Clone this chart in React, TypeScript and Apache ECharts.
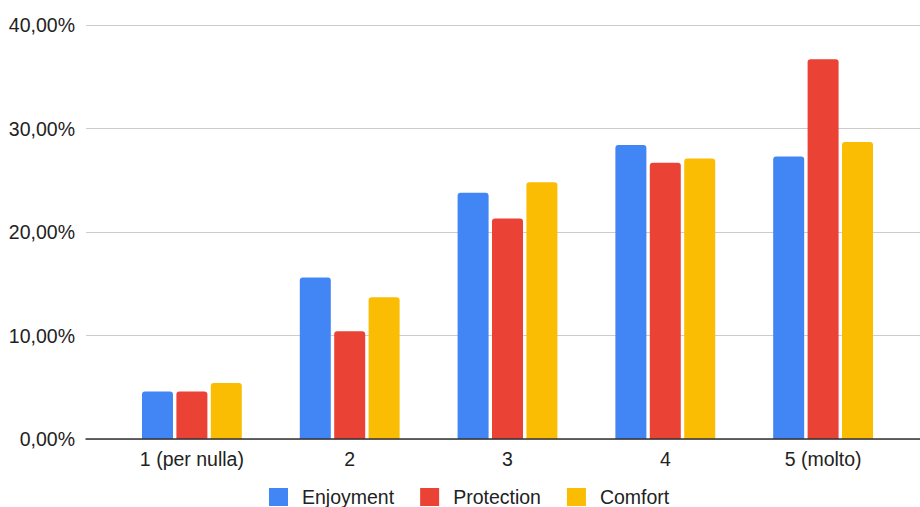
import React, { useEffect, useRef } from "react";
import * as echarts from "echarts";

const categories = ["1 (per nulla)", "2", "3", "4", "5 (molto)"];
const enjoyment = [4.6, 15.6, 23.8, 28.4, 27.3];
const protection = [4.6, 10.4, 21.3, 26.7, 36.7];
const comfort = [5.4, 13.7, 24.8, 27.1, 28.7];
const seriesNames = ["Enjoyment", "Protection", "Comfort"];
const colors = ["#4285F4", "#EA4335", "#FBBC04"];

const FONT = "Arial, 'Liberation Sans', sans-serif";
const FONT_SIZE = 19.5;
const fmtPct = (v: number) => v.toFixed(2).replace(".", ",") + "%";

export default function App() {
  const ref = useRef<HTMLDivElement>(null);

  useEffect(() => {
    if (!ref.current) return;
    const chart = echarts.init(ref.current, undefined, { renderer: "svg" });
    const values = [enjoyment, protection, comfort];
    chart.setOption({
      animation: false,
      backgroundColor: "#ffffff",
      textStyle: { fontFamily: FONT },
      grid: [
        { left: 86, right: 0, top: 25, bottom: 68 },
        { left: 113, right: 18, top: 25, bottom: 68 },
      ],
      legend: {
        data: seriesNames,
        left: 264,
        top: 482,
        itemWidth: 19,
        itemHeight: 18,
        itemGap: 26,
        icon: "rect",
        textStyle: {
          fontFamily: FONT,
          fontSize: FONT_SIZE,
          lineHeight: 19,
          color: "#222222",
          padding: [0, 0, 0, 9],
        },
      },
      xAxis: [
        {
          type: "value",
          gridIndex: 0,
          min: 0,
          max: 1,
          z: 5,
          axisLine: { show: true, lineStyle: { color: "#333333", width: 1.5 } },
          axisTick: { show: false },
          axisLabel: { show: false },
          splitLine: { show: false },
        },
        {
          type: "category",
          gridIndex: 1,
          data: categories,
          axisLine: { show: false },
          axisTick: { show: false },
          axisLabel: {
            fontFamily: FONT,
            fontSize: FONT_SIZE,
            color: "#222222",
            margin: 10,
          },
        },
      ],
      yAxis: [
        {
          type: "value",
          gridIndex: 0,
          min: 0,
          max: 40,
          interval: 10,
          axisLine: { show: false },
          axisTick: { show: false },
          axisLabel: {
            fontFamily: FONT,
            fontSize: FONT_SIZE,
            color: "#222222",
            margin: 11,
            formatter: fmtPct,
          },
          splitLine: { lineStyle: { color: "#cccccc", width: 1 } },
        },
        {
          type: "value",
          gridIndex: 1,
          min: 0,
          max: 40,
          show: false,
          splitLine: { show: false },
        },
      ],
      series: seriesNames.map((name, i) => ({
        name,
        type: "bar",
        xAxisIndex: 1,
        yAxisIndex: 1,
        data: values[i],
        barWidth: 31,
        barGap: "11%",
        itemStyle: { color: colors[i], borderRadius: [3, 3, 0, 0] },
      })),
    });
    return () => chart.dispose();
  }, []);

  return <div ref={ref} style={{ width: 920, height: 507, position: "absolute", left: 0, top: 0 }} />;
}
